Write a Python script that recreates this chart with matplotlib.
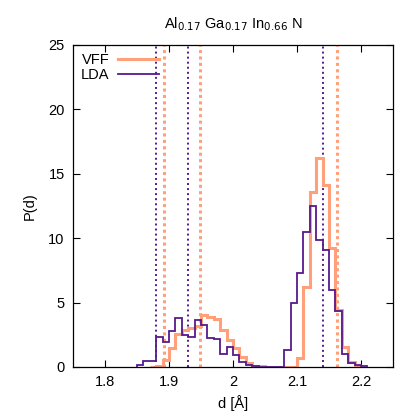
import numpy as np
import matplotlib
matplotlib.use('Agg')
import matplotlib.pyplot as plt

plt.rcParams['font.family'] = ['Liberation Sans', 'DejaVu Sans']

# histogramas P(d), bins de 0.01 A
ancho_bin = 0.01

inicio_lda = 1.85
lda = [0.15, 0.5, 0.5, 2.3, 1.95, 2.8, 3.8, 2.48, 2.3, 3.65, 3.28, 2.25,
       2.15, 1.0, 1.58, 0.95, 0.41, 0.15, 0.08, 0, 0, 0, 0, 1.32, 5.0,
       7.27, 10.45, 12.5, 9.86, 9.1, 5.98, 4.37, 1.0, 0.28, 0.12, 0.08]

inicio_vff = 1.87
vff = [0, 0.1, 0.54, 1.45, 2.55, 2.9, 3.05, 3.2, 4.0, 3.85, 3.7, 2.87,
       2.1, 1.5, 0.8, 0.3, 0.1, 0.05, 0, 0, 0, 0, 0, 0.7, 6.24, 13.6,
       16.25, 14.1, 9.2, 4.4, 1.58, 0.41, 0.08]

# distancias promedio (lineas punteadas)
lineas_lda = [1.880, 1.929, 2.140]
lineas_vff = [1.892, 1.948, 2.162]

color_vff = '#ffa07a'
color_lda = '#561a8c'

bordes_lda = inicio_lda + ancho_bin * np.arange(len(lda) + 1)
bordes_vff = inicio_vff + ancho_bin * np.arange(len(vff) + 1)

fig = plt.figure(figsize=(4.15, 4.15), dpi=100)
ax = fig.add_axes([0.176, 0.1157, 0.771, 0.7759])

for d in lineas_vff:
    ax.axvline(d, color=color_vff, lw=2.2, ls=(0, (1, 1.1)), zorder=1)
for d in lineas_lda:
    ax.axvline(d, color=color_lda, lw=1.4, ls=(0, (1, 1.6)), zorder=1)

ax.stairs(vff, bordes_vff, color=color_vff, lw=2.2, label='VFF', zorder=2)
ax.stairs(lda, bordes_lda, color=color_lda, lw=1.3, label='LDA', zorder=3)

ax.set_xlim(1.75, 2.25)
ax.set_ylim(0, 25)
ax.set_xticks([1.8, 1.9, 2.0, 2.1, 2.2])
ax.set_xticklabels(['1.8', '1.9', '2', '2.1', '2.2'])
ax.set_yticks([0, 5, 10, 15, 20, 25])
ax.tick_params(direction='in', top=True, right=True, length=5, width=0.8,
               labelsize=10.5, pad=6)
for s in ax.spines.values():
    s.set_linewidth(0.9)

ax.set_xlabel('d [Å]', fontsize=10.5, labelpad=4)
ax.set_ylabel('P(d)', fontsize=10.5, labelpad=8)
ax.set_title('Al$_{0.17}$ Ga$_{0.17}$ In$_{0.66}$ N', fontsize=10.5, pad=12)

ax.legend(loc='upper left', markerfirst=False, frameon=False, fontsize=10.5,
          handlelength=2.8, handletextpad=0.6, labelspacing=0.05,
          borderaxespad=0.3, borderpad=0.25)

plt.savefig('out.png', dpi=100)
